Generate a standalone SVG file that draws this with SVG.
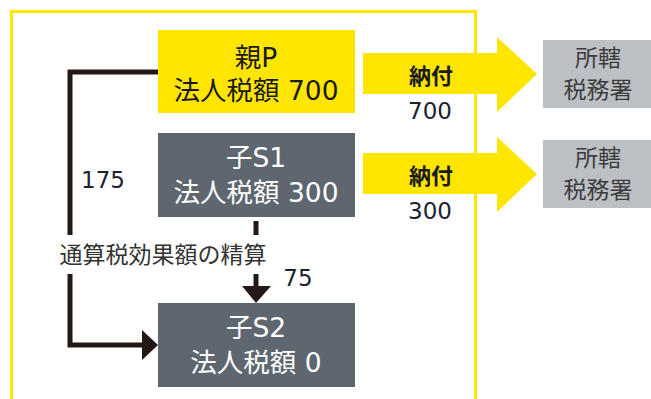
<svg xmlns="http://www.w3.org/2000/svg" width="651" height="399" viewBox="0 0 651 399">
<defs>
<style>
text{font-family:"DejaVu Sans","Noto Sans CJK JP",sans-serif;text-anchor:middle}
.node{font-size:26.5px}
.wt{fill:#ffffff}
.bk{fill:#1a1a1a}
.num{font-size:23px;fill:#1c2233}
.tax{font-size:23px;fill:#3c3c3c}
.pay{font-size:22px;fill:#1a1a1a;font-weight:bold}
.lbl{font-size:23px;fill:#333333}
.conn{stroke:#231815;stroke-width:5;fill:none}
.head{fill:#231815}
.arrowY{fill:#FFE600}
</style>
</defs>
<rect x="0" y="0" width="651" height="399" fill="#ffffff"/>
<rect id="frame" x="11.5" y="11.5" width="464" height="400" fill="none" stroke="#FFE600" stroke-width="3"/>

<g id="connectors">
<polyline class="conn" points="158,72 70,72 70,345 143,345"/>
<polygon class="head" points="142,330 158,345 142,360"/>
<line class="conn" x1="256" y1="221" x2="256" y2="288"/>
<polygon class="head" points="242,286 271,286 256,303"/>
<rect x="52" y="235" width="222" height="39" fill="#ffffff"/>
<text class="lbl" x="163" y="263">通算税効果額の精算</text>
<text class="num" x="103" y="188">175</text>
<text class="num" x="298" y="286">75</text>
</g>

<g id="arrow-pay-P">
<polygon class="arrowY" points="363,53 497,53 497,37 537,74 497,112 497,94 363,94"/>
<text class="pay" x="431" y="84">納付</text>
<text class="num" x="430" y="119">700</text>
</g>
<g id="arrow-pay-S1">
<polygon class="arrowY" points="363,153 497,153 497,137 537,174 497,212 497,194 363,194"/>
<text class="pay" x="431" y="184">納付</text>
<text class="num" x="430" y="219">300</text>
</g>

<g id="node-P">
<rect x="158" y="30" width="197" height="83" fill="#FFE600"/>
<text class="node bk" x="256" y="67">親P</text>
<text class="node bk" x="256" y="100">法人税額 700</text>
</g>
<g id="node-S1">
<rect x="158" y="133" width="197" height="84" fill="#5E6770"/>
<text class="node wt" x="256" y="167">子S1</text>
<text class="node wt" x="256" y="202">法人税額 300</text>
</g>
<g id="node-S2">
<rect x="158" y="303" width="197" height="84" fill="#5E6770"/>
<text class="node wt" x="256" y="337">子S2</text>
<text class="node wt" x="256" y="372">法人税額 0</text>
</g>
<g id="tax-office-1">
<rect x="543" y="40" width="108" height="68" fill="#BCC0C4"/>
<text class="tax" x="598" y="66">所轄</text>
<text class="tax" x="598" y="98">税務署</text>
</g>
<g id="tax-office-2">
<rect x="543" y="140" width="108" height="68" fill="#BCC0C4"/>
<text class="tax" x="598" y="166">所轄</text>
<text class="tax" x="598" y="198">税務署</text>
</g>
</svg>
